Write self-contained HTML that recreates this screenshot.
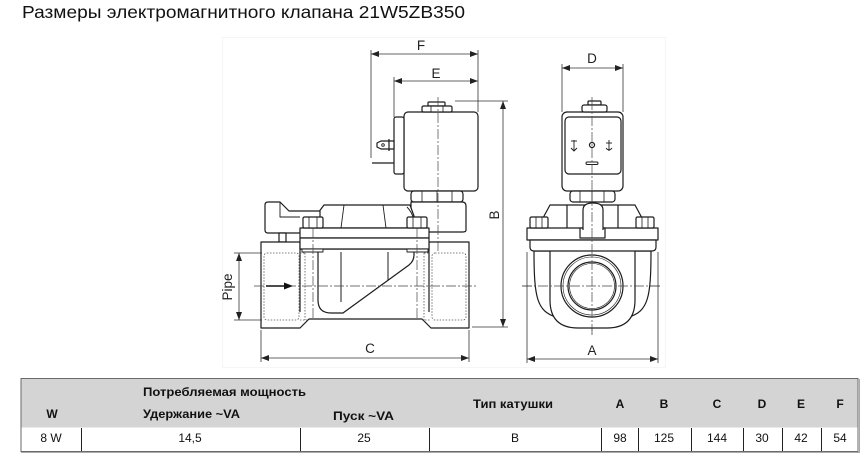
<!DOCTYPE html>
<html><head><meta charset="utf-8"><style>
html,body{margin:0;padding:0;background:#fff;}
svg{display:block;}
text{font-family:"Liberation Sans","DejaVu Sans",sans-serif;}
</style></head><body>
<svg width="866" height="463" viewBox="0 0 866 463" xmlns="http://www.w3.org/2000/svg">
<rect x="0" y="0" width="866" height="463" fill="#fff"/>
<text x="22" y="18" font-size="17.5" fill="#111" textLength="443" lengthAdjust="spacingAndGlyphs">Размеры электромагнитного клапана 21W5ZB350</text>

<!-- faint frame -->
<rect x="222.5" y="37.5" width="443" height="330" fill="none" stroke="#f5f5f5" stroke-width="1"/>

<defs>
<marker id="ar" viewBox="0 0 8 6" refX="8" refY="3" markerWidth="8" markerHeight="6" orient="auto-start-reverse" markerUnits="userSpaceOnUse">
<path d="M0,0 L8,3 L0,6 Z" fill="#222"/>
</marker>
</defs>

<g fill="none" stroke="#1c1c1c" stroke-width="1.2" stroke-linejoin="round">
<!-- ===== LEFT VIEW ===== -->
<rect x="404" y="112" width="74" height="79" rx="4" fill="#fff"/>
<rect x="394" y="117" width="10" height="57" rx="2" fill="#fff"/>
<path d="M394,141 L381,141 L377,143 L377,147 L381,149 L394,149 Z" fill="#fff"/>
<line x1="389" y1="139" x2="389" y2="151"/>
<circle cx="383" cy="145" r="1.3" stroke-width="0.9"/>
<line x1="372" y1="163" x2="394" y2="163"/>
<rect x="428" y="102" width="17" height="4" rx="1" fill="#fff"/>
<rect x="422" y="106" width="30" height="6" rx="1.5" fill="#fff"/>
<line x1="431" y1="106" x2="431" y2="112" stroke-width="0.8"/>
<line x1="443" y1="106" x2="443" y2="112" stroke-width="0.8"/>
<rect x="411" y="191" width="52" height="11" rx="3" fill="#fff"/>
<line x1="422" y1="191" x2="422" y2="202" stroke-width="0.8"/>
<line x1="437" y1="191" x2="437" y2="202" stroke-width="0.8"/>
<line x1="452" y1="191" x2="452" y2="202" stroke-width="0.8"/>
<path d="M411,202 L462,202 Q466,202 466,206 L466,230 Q466,232 463,232 L411,232 Z" fill="#fff"/>
<path d="M324,205 L410,205 L414,216 L414,228 L318,228 L318,213 Z" fill="#fff"/>
<line x1="344" y1="205" x2="341" y2="228" stroke-width="0.9"/>
<line x1="383" y1="205" x2="386" y2="228" stroke-width="0.9"/>
<path d="M407,207 Q412,212 414,220" stroke-width="0.9"/>
<path d="M268,202 L280,202 L289,211 L320,211 L320,233 L268,233 Q265,233 265,230 L265,205 Q265,202 268,202 Z" fill="#fff"/>
<path d="M280,202 L280,217 L300,217" stroke-width="0.9"/>
<rect x="279" y="233" width="7" height="9" fill="#fff"/>
<path d="M261,242 L300,242 L300,249 L429,249 L429,242 L469,242 L469,328 L431,328 L422,319 L309,319 L300,328 L261,328 Z" fill="#fff"/>
<line x1="300" y1="249" x2="300" y2="312"/>
<line x1="429" y1="249" x2="429" y2="312"/>
<rect x="300" y="228" width="129" height="10" fill="#fff"/>
<rect x="300" y="238" width="129" height="11" fill="#fff"/>
<rect x="302" y="249" width="21" height="3" fill="#fff" stroke-width="0.9"/>
<rect x="407" y="249" width="21" height="3" fill="#fff" stroke-width="0.9"/>
<rect x="303" y="217" width="20" height="11" rx="1.5" fill="#fff"/>
<line x1="309" y1="217" x2="309" y2="228" stroke-width="0.8"/>
<line x1="317" y1="217" x2="317" y2="228" stroke-width="0.8"/>
<rect x="407" y="217" width="20" height="11" rx="1.5" fill="#fff"/>
<line x1="413" y1="217" x2="413" y2="228" stroke-width="0.8"/>
<line x1="421" y1="217" x2="421" y2="228" stroke-width="0.8"/>
<path d="M318,252 L318,300 Q318,313 331,313 L343,313 L409,265 Q414,261 414,255 L414,252"/>
<line x1="341" y1="252" x2="341" y2="302" stroke-width="1"/>
<line x1="388" y1="252" x2="388" y2="280" stroke-width="1"/>
</g>

<g fill="none" stroke="#555" stroke-width="0.8" stroke-dasharray="1.5,1.5">
<rect x="264" y="253" width="35" height="67" rx="3"/>
<rect x="432" y="253" width="34" height="67" rx="3"/>
<line x1="305" y1="253" x2="305" y2="320"/>
<line x1="424" y1="253" x2="424" y2="320"/>
<line x1="300" y1="253" x2="306" y2="253"/>
<line x1="300" y1="320" x2="308" y2="320"/>
<line x1="424" y1="253" x2="430" y2="253"/>
<line x1="422" y1="320" x2="430" y2="320"/>
</g>

<g fill="none" stroke="#444" stroke-width="0.7" stroke-dasharray="10,2,2,2">
<line x1="254" y1="286" x2="478" y2="286"/>
<line x1="438" y1="97" x2="438" y2="252"/>
<line x1="313" y1="228" x2="313" y2="320"/>
<line x1="417" y1="228" x2="417" y2="320"/>
<line x1="522" y1="286" x2="662" y2="286"/>
<line x1="592" y1="97" x2="592" y2="336"/>
<line x1="567" y1="145" x2="619" y2="145"/>
</g>

<line x1="266" y1="286" x2="285" y2="286" stroke="#111" stroke-width="1.6"/>
<path d="M284,282.5 L293,286 L284,289.5 Z" fill="#111"/>

<!-- ===== RIGHT VIEW ===== -->
<g fill="none" stroke="#1c1c1c" stroke-width="1.2" stroke-linejoin="round">
<rect x="562" y="112" width="61" height="79" rx="5" fill="#fff"/>
<rect x="565" y="117" width="56" height="57" rx="4"/>
<rect x="588" y="101" width="13" height="4" rx="1" fill="#fff"/>
<rect x="582" y="105" width="25" height="7" rx="2" fill="#fff"/>
<circle cx="592" cy="145" r="2.5" fill="#fff"/>
<rect x="586" y="162" width="12" height="2.5" rx="1.2" stroke-width="1"/>
<g stroke-width="0.9">
<line x1="574" y1="140" x2="574" y2="151"/>
<line x1="571" y1="141" x2="577" y2="141"/>
<path d="M571,148 L574,151 L577,148"/>
<line x1="609" y1="140" x2="609" y2="151"/>
<line x1="606" y1="143" x2="612" y2="143"/>
<path d="M606,148 Q609,152 612,148"/>
</g>
<rect x="570" y="191" width="45" height="11" rx="3" fill="#fff"/>
<line x1="580" y1="191" x2="580" y2="202" stroke-width="0.8"/>
<line x1="592" y1="191" x2="592" y2="202" stroke-width="0.8"/>
<line x1="604" y1="191" x2="604" y2="202" stroke-width="0.8"/>
<path d="M543,228 L543,218 L550,205 L635,205 L642,218 L642,228" fill="#fff"/>
<line x1="567" y1="205" x2="567" y2="228"/>
<line x1="618" y1="205" x2="618" y2="228"/>
<path d="M534,251 C534,298 537,311 556,317 L629,317 C648,311 651,298 651,251 Z" fill="#fff"/>
<path d="M550,246 Q550,240 556,240 L629,240 Q635,240 635,246 L635,300 Q635,328 607,328 L578,328 Q550,328 550,300 Z" fill="#fff"/>
<rect x="527" y="228" width="131" height="12" fill="#fff"/>
<path d="M530,240 L656,240 L656,247 Q656,251 652,251 L534,251 Q530,251 530,247 Z" fill="#fff"/>
<rect x="580" y="228" width="25" height="10" fill="#fff"/>
<path d="M583,230 L583,210 Q583,203 593,203 Q603,203 603,210 L603,230" fill="#fff"/>
<rect x="530" y="217" width="18" height="11" rx="1.5" fill="#fff"/>
<line x1="536" y1="217" x2="536" y2="228" stroke-width="0.8"/>
<line x1="542" y1="217" x2="542" y2="228" stroke-width="0.8"/>
<rect x="636" y="217" width="18" height="11" rx="1.5" fill="#fff"/>
<line x1="642" y1="217" x2="642" y2="228" stroke-width="0.8"/>
<line x1="648" y1="217" x2="648" y2="228" stroke-width="0.8"/>
<circle cx="592" cy="286" r="31"/>
<circle cx="592" cy="286" r="29" stroke-width="0.6"/>
<circle cx="592" cy="286" r="24"/>
<circle cx="592" cy="286" r="22.5" stroke-width="0.6"/>
</g>
<g fill="none" stroke="#444" stroke-width="0.7" stroke-dasharray="10,2,2,2">
<line x1="522" y1="286" x2="662" y2="286"/>
<line x1="592" y1="100" x2="592" y2="336"/>
</g>

<!-- ===== DIMENSIONS ===== -->
<g fill="none" stroke="#333" stroke-width="0.8">
<line x1="371" y1="50" x2="371" y2="158"/>
<line x1="478" y1="50" x2="478" y2="112"/>
<line x1="371" y1="54" x2="478" y2="54" marker-start="url(#ar)" marker-end="url(#ar)"/>
<line x1="394" y1="77" x2="394" y2="117"/>
<line x1="394" y1="81" x2="478" y2="81" marker-start="url(#ar)" marker-end="url(#ar)"/>
<line x1="455" y1="101" x2="508" y2="101"/>
<line x1="472" y1="327" x2="508" y2="327"/>
<line x1="503" y1="101" x2="503" y2="327" marker-start="url(#ar)" marker-end="url(#ar)"/>
<line x1="234" y1="253" x2="262" y2="253"/>
<line x1="234" y1="320" x2="262" y2="320"/>
<line x1="239" y1="253" x2="239" y2="320" marker-start="url(#ar)" marker-end="url(#ar)"/>
<line x1="261" y1="330" x2="261" y2="362"/>
<line x1="469" y1="330" x2="469" y2="362"/>
<line x1="261" y1="358" x2="469" y2="358" marker-start="url(#ar)" marker-end="url(#ar)"/>
<line x1="562" y1="64" x2="562" y2="112"/>
<line x1="623" y1="64" x2="623" y2="112"/>
<line x1="562" y1="68" x2="623" y2="68" marker-start="url(#ar)" marker-end="url(#ar)"/>
<line x1="527" y1="252" x2="527" y2="363"/>
<line x1="658" y1="252" x2="658" y2="363"/>
<line x1="527" y1="359" x2="658" y2="359" marker-start="url(#ar)" marker-end="url(#ar)"/>
</g>
<g font-size="13.5" fill="#222" text-anchor="middle">
<text x="421" y="50">F</text>
<text x="436" y="78">E</text>
<text x="592" y="63">D</text>
<text x="370" y="353">C</text>
<text x="592" y="355">A</text>
<text transform="translate(499,215) rotate(-90)">B</text>
<text transform="translate(232,287) rotate(-90)">Pipe</text>
</g>

<!-- ===== TABLE ===== -->
<rect x="21" y="378.5" width="837" height="49" fill="#d4d4d4"/>
<rect x="21" y="427.5" width="837" height="24" fill="#fff"/>
<g stroke="#222" stroke-width="1">
<line x1="81.5" y1="428" x2="81.5" y2="451"/>
<line x1="300.5" y1="428" x2="300.5" y2="451"/>
<line x1="429.5" y1="428" x2="429.5" y2="451"/>
<line x1="601.5" y1="428" x2="601.5" y2="451"/>
<line x1="638.5" y1="428" x2="638.5" y2="451"/>
<line x1="691.5" y1="428" x2="691.5" y2="451"/>
<line x1="743.5" y1="428" x2="743.5" y2="451"/>
<line x1="782.5" y1="428" x2="782.5" y2="451"/>
<line x1="821.5" y1="428" x2="821.5" y2="451"/>
</g>
<rect x="21" y="378.5" width="837" height="73" fill="none" stroke="#6a6a6a" stroke-width="1"/>
<line x1="21" y1="452.5" x2="859" y2="452.5" stroke="#aaa" stroke-width="1"/>
<line x1="859.5" y1="379" x2="859.5" y2="453" stroke="#aaa" stroke-width="1"/>

<g font-size="12" font-weight="bold" fill="#111">
<text x="143" y="396" textLength="163" lengthAdjust="spacingAndGlyphs">Потребляемая мощность</text>
<text x="52" y="418" text-anchor="middle">W</text>
<text x="143" y="418" textLength="97" lengthAdjust="spacingAndGlyphs">Удержание ~VA</text>
<text x="333" y="420" textLength="61" lengthAdjust="spacingAndGlyphs">Пуск ~VA</text>
<text x="473" y="408" textLength="80" lengthAdjust="spacingAndGlyphs">Тип катушки</text>
<text x="620" y="408" text-anchor="middle">A</text>
<text x="664" y="408" text-anchor="middle">B</text>
<text x="717" y="408" text-anchor="middle">C</text>
<text x="762" y="408" text-anchor="middle">D</text>
<text x="801" y="408" text-anchor="middle">E</text>
<text x="840" y="408" text-anchor="middle">F</text>
</g>
<g font-size="12" fill="#111" text-anchor="middle">
<text x="51" y="442">8 W</text>
<text x="190" y="442">14,5</text>
<text x="364" y="442">25</text>
<text x="515" y="442">B</text>
<text x="620" y="442">98</text>
<text x="664" y="442">125</text>
<text x="717" y="442">144</text>
<text x="762" y="442">30</text>
<text x="801" y="442">42</text>
<text x="840" y="442">54</text>
</g>
</svg>
</body></html>
